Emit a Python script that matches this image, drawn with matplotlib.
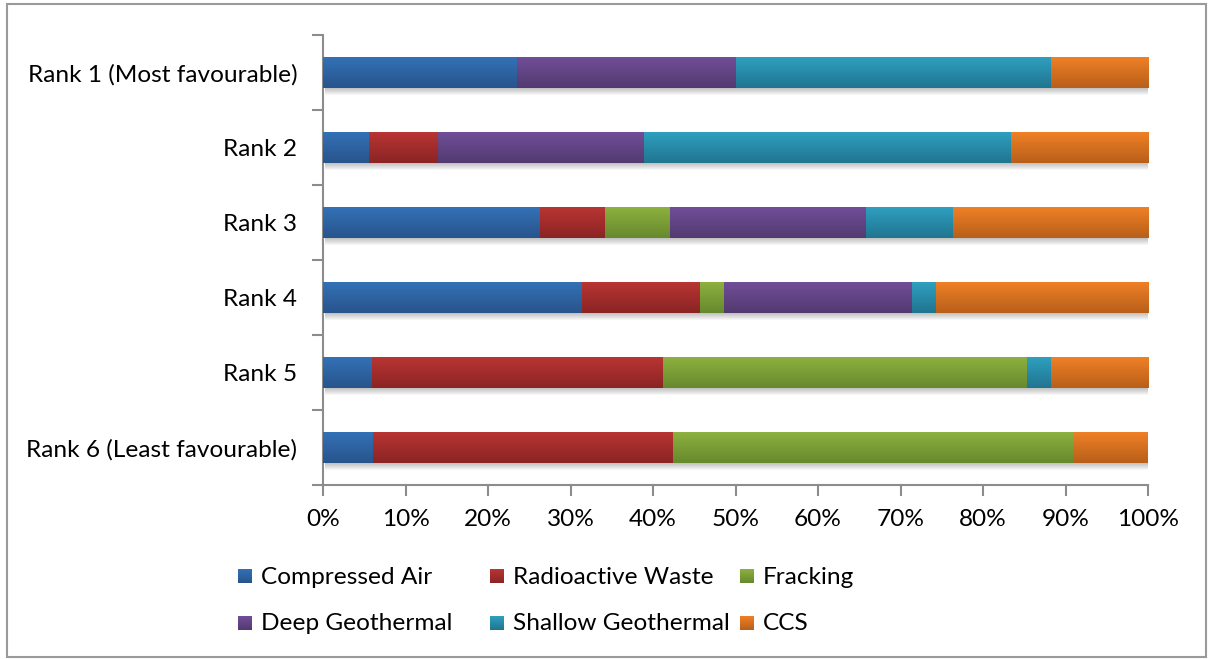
import numpy as np
import matplotlib.pyplot as plt
from matplotlib.colors import to_rgb
from matplotlib.patches import Rectangle
from matplotlib.ticker import FixedLocator, PercentFormatter

plt.rcParams['font.family'] = ['Lato', 'DejaVu Sans']

ranks = ['Rank 1 (Most favourable)', 'Rank 2', 'Rank 3', 'Rank 4', 'Rank 5',
         'Rank 6 (Least favourable)']
series = ['Compressed Air', 'Radioactive Waste', 'Fracking',
          'Deep Geothermal', 'Shallow Geothermal', 'CCS']

# respondent counts per rank, one list per technology
compressed_air = [8, 2, 10, 11, 2, 2]
radioactive_waste = [0, 3, 3, 5, 12, 12]
fracking = [0, 0, 3, 1, 15, 16]
deep_geothermal = [9, 9, 9, 8, 0, 0]
shallow_geothermal = [13, 16, 4, 1, 1, 0]
ccs = [4, 6, 9, 9, 4, 3]

# (top, bottom) colours of the vertical gradient on each bar
top_colors = ['#3371b6', '#b83533', '#8db03f', '#714e98', '#2f9fc0', '#ef8026']
bottom_colors = ['#28548c', '#8b2424', '#67892e', '#523a70', '#207590', '#b85f1a']

counts = np.array([compressed_air, radioactive_waste, fracking,
                   deep_geothermal, shallow_geothermal, ccs], dtype=float)
shares = counts / counts.sum(axis=0) * 100

FS = 17.6


def gradient(top, bottom, n=64):
    t = np.linspace(0, 1, n)[:, None]
    c = (1 - t) * np.array(to_rgb(top)) + t * np.array(to_rgb(bottom))
    return c[:, None, :]


W, H = 1208, 659
fig = plt.figure(figsize=(W / 100, H / 100), dpi=100)
ax = fig.add_axes([323 / W, 1 - 485 / H, 825 / W, 450 / H])

ypos = np.arange(len(ranks))[::-1]
bar_h = 0.41
px_x = 100 / 825   # one pixel in data units
px_y = 6 / 450

# soft drop shadow under every bar
for y in ypos:
    for d in range(1, 8):
        ax.add_patch(Rectangle((px_x * 2, y - bar_h / 2 - d * px_y), 100, bar_h,
                               facecolor='black', edgecolor='none',
                               alpha=0.035, zorder=1))

left = np.zeros(len(ranks))
for i, name in enumerate(series):
    bars = ax.barh(ypos, shares[i], height=bar_h, left=left,
                   color=top_colors[i], edgecolor='none', zorder=2, label=name)
    img = gradient(top_colors[i], bottom_colors[i])
    for p in bars.patches:
        if p.get_width() <= 0:
            continue
        x0, y0 = p.get_x(), p.get_y()
        ax.imshow(img, extent=(x0, x0 + p.get_width(), y0, y0 + p.get_height()),
                  origin='upper', aspect='auto', interpolation='bilinear',
                  zorder=3, clip_path=p, clip_on=True)
    left += shares[i]

ax.set_xlim(0, 100)
ax.set_ylim(-0.5, len(ranks) - 0.5)
ax.set_aspect('auto')

axis_color = '#8c8c8c'
for s in ['top', 'right']:
    ax.spines[s].set_visible(False)
for s in ['left', 'bottom']:
    ax.spines[s].set_color(axis_color)
    ax.spines[s].set_linewidth(1.5)

ax.set_xticks(np.arange(0, 101, 10))
ax.xaxis.set_major_formatter(PercentFormatter(decimals=0))
ax.tick_params(axis='x', length=8, width=1.5, color=axis_color,
               labelsize=FS, pad=9)

ax.set_yticks(ypos)
ax.set_yticklabels(ranks)
ax.yaxis.set_minor_locator(FixedLocator(np.arange(-0.5, len(ranks), 1.0)))
ax.tick_params(axis='y', which='major', length=0, labelsize=FS, pad=18.5)
ax.tick_params(axis='y', which='minor', length=8, width=1.5, color=axis_color)

# legend drawn in pixel space below the plot
lg = fig.add_axes([0, 0, 1, 1], zorder=5)
lg.set_xlim(0, W)
lg.set_ylim(H, 0)
lg.axis('off')
lg.patch.set_alpha(0)
col_x = [238, 490, 740]
row_y = [576, 623]
for i, name in enumerate(series):
    cx = col_x[i % 3]
    cy = row_y[i // 3]
    lg.imshow(gradient(top_colors[i], bottom_colors[i]),
              extent=(cx, cx + 14, cy + 7, cy - 7), aspect='auto',
              interpolation='bilinear')
    lg.text(cx + 23, cy + 1, name, fontsize=FS, va='center', ha='left')

lg.add_patch(Rectangle((7, 4), 1199, 653, facecolor='none',
                       edgecolor='#9a9a9a', linewidth=1.5))

fig.savefig('out.png', dpi=100)
